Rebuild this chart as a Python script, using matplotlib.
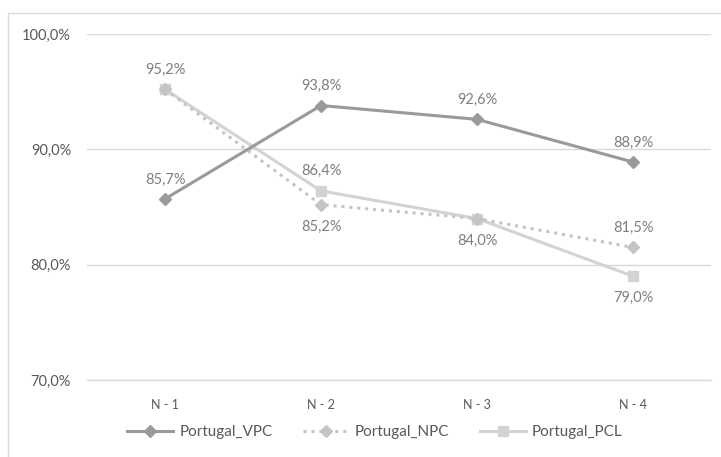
import matplotlib.pyplot as plt
from matplotlib.patches import Rectangle

# Series values (%)
categories = ['N - 1', 'N - 2', 'N - 3', 'N - 4']
vpc = [85.7, 93.8, 92.6, 88.9]
npc = [95.2, 85.2, 84.0, 81.5]
pcl = [95.2, 86.4, 84.0, 79.0]

yticks = [70, 80, 90, 100]

plt.rcParams['font.family'] = ['Lato', 'DejaVu Sans']

fig = plt.figure(figsize=(7.21, 4.57), dpi=100)
ax = fig.add_axes([87 / 721, 1 - 380 / 457, 624 / 721, 346 / 457])

x = list(range(len(categories)))

ax.plot(x, vpc, color='#9a9a9a', lw=2.2, marker='D', ms=6, label='Portugal_VPC', zorder=4)
ax.plot(x, npc, color='#c4c4c4', lw=2.2, ls=(0, (1, 1.6)), marker='D', ms=6,
        label='Portugal_NPC', zorder=3)
ax.plot(x, pcl, color='#d3d3d3', lw=2.2, marker='s', ms=7, label='Portugal_PCL', zorder=2)

lab_color = '#7f7f7f'
lab_kw = dict(ha='center', fontsize=10.5, color=lab_color, zorder=5)


def fmt(v):
    return f'{v:.1f}%'.replace('.', ',')


# data labels: (series, index, offset in points)
labels = [
    (vpc, 0, 9), (vpc, 1, 9), (vpc, 2, 9), (vpc, 3, 9),
    (npc, 1, -21), (npc, 2, -21), (npc, 3, 9),
    (pcl, 0, 9), (pcl, 1, 9), (pcl, 3, -21),
]
for series, i, dy in labels:
    ax.annotate(fmt(series[i]), (x[i], series[i]), xytext=(0, dy),
                textcoords='offset points', va='bottom', **lab_kw)

ax.set_xlim(-0.5, 3.5)
ax.set_ylim(70, 100)
ax.set_yticks(yticks)
ax.set_yticklabels([fmt(v) for v in yticks])
ax.set_xticks(x)
ax.set_xticklabels(categories)
ax.tick_params(axis='both', length=0, colors='#595959')
ax.tick_params(axis='y', pad=11.5, labelsize=10.5)
ax.tick_params(axis='x', pad=14, labelsize=9)
ax.grid(axis='y', color='#d9d9d9', lw=1)
ax.set_axisbelow(True)
for side in ['top', 'right', 'left']:
    ax.spines[side].set_visible(False)
ax.spines['bottom'].set_color('#d9d9d9')

fig.legend(*ax.get_legend_handles_labels(), loc='center', ncol=3,
           bbox_to_anchor=(0.52, 1 - 432 / 457), frameon=False, fontsize=11,
           labelcolor='#595959', handlelength=3.0, columnspacing=2.0,
           handletextpad=0.4)

# chart border
fig.patches.append(Rectangle((8 / 721, -0.01), 1, 1 - 13 / 457 + 0.01,
                             transform=fig.transFigure, fill=False,
                             edgecolor='#d9d9d9', lw=1))

fig.savefig('out.png', dpi=100)
